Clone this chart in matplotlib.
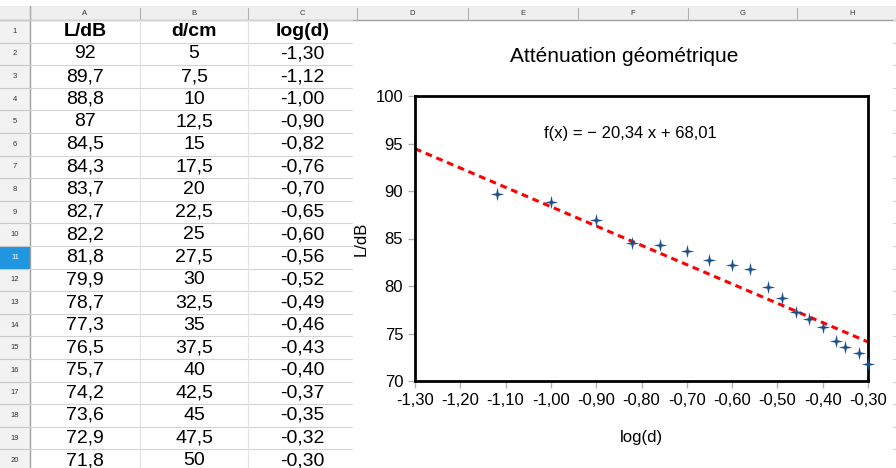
import numpy as np
import matplotlib.pyplot as plt
from matplotlib.path import Path
from matplotlib.patches import Rectangle

plt.rcParams['font.family'] = ['Liberation Sans', 'DejaVu Sans']

L_dB = [92, 89.7, 88.8, 87, 84.5, 84.3, 83.7, 82.7, 82.2, 81.8,
        79.9, 78.7, 77.3, 76.5, 75.7, 74.2, 73.6, 72.9, 71.8]
d_cm = [5, 7.5, 10, 12.5, 15, 17.5, 20, 22.5, 25, 27.5,
        30, 32.5, 35, 37.5, 40, 42.5, 45, 47.5, 50]
log_d = [-1.30, -1.12, -1.00, -0.90, -0.82, -0.76, -0.70, -0.65, -0.60, -0.56,
         -0.52, -0.49, -0.46, -0.43, -0.40, -0.37, -0.35, -0.32, -0.30]
headers = ['L/dB', 'd/cm', 'log(d)']
col_letters = ['A', 'B', 'C', 'D', 'E', 'F', 'G', 'H']
slope, intercept = -20.34, 68.01
fit_x = [-1.30, -0.30]

def fr(v, nd=None):
    s = f'{v:.{nd}f}' if nd is not None else f'{v:g}'
    return s.replace('.', ',')

W, H = 896, 468
fig = plt.figure(figsize=(W / 100, H / 100), dpi=100)

# spreadsheet background, pixel coordinates
bg = fig.add_axes([0, 0, 1, 1])
bg.set_xlim(0, W)
bg.set_ylim(H, 0)
bg.axis('off')

row_h = 22.6
top = 20
col_x = [30, 140, 248, 357, 468, 578, 688, 797, 907]

# header band and row-number column
bg.add_patch(Rectangle((0, 6), W, top - 6, fc='#efefef', ec='none'))
bg.add_patch(Rectangle((0, top), 30, H - top, fc='#f2f2f2', ec='none'))
bg.plot([0, W], [top, top], color='#a0a0a0', lw=1)
bg.plot([30, 30], [6, H], color='#a0a0a0', lw=1)
for i, x in enumerate(col_x[:-1]):
    bg.plot([x, x], [8, top], color='#b0b0b0', lw=0.8)
    bg.text((x + col_x[i + 1]) / 2, 13.5, col_letters[i], ha='center', va='center',
            fontsize=5.5, color='#333333')

nrows = len(L_dB) + 1
for r in range(nrows + 1):
    y = top + row_h * r
    bg.plot([0, 30], [y, y], color='#c8c8c8', lw=0.8)
    bg.plot([30, 352], [y, y], color='#d4d4d4', lw=0.8)
    bg.plot([893, W], [y, y], color='#d4d4d4', lw=0.8)
for x in col_x[1:3]:
    bg.plot([x, x], [top, H], color='#e2e2e2', lw=0.8)

for r in range(nrows):
    yc = top + row_h * (r + 0.5)
    if r + 1 == 11:
        bg.add_patch(Rectangle((0, top + row_h * r), 30, row_h, fc='#2196e0', ec='none'))
        bg.text(15, yc, str(r + 1), ha='center', va='center', fontsize=5.5, color='white')
    else:
        bg.text(15, yc, str(r + 1), ha='center', va='center', fontsize=5.5, color='#333333')

centers = [(col_x[i] + col_x[i + 1]) / 2 for i in range(3)]
for j, h in enumerate(headers):
    bg.text(centers[j], top + row_h * 0.5, h, ha='center', va='center',
            fontsize=14, fontweight='bold')
for i in range(len(L_dB)):
    yc = top + row_h * (i + 1.5)
    bg.text(centers[0], yc, fr(L_dB[i]), ha='center', va='center', fontsize=14)
    bg.text(centers[1], yc, fr(d_cm[i]), ha='center', va='center', fontsize=14)
    bg.text(centers[2], yc, fr(log_d[i], 2), ha='center', va='center', fontsize=14)

# chart object
bg.add_patch(Rectangle((352, top + 1), 541, H - top, fc='white', ec='none'))
fig.text(624 / W, 1 - 57 / H, 'Atténuation géométrique', ha='center', va='center', fontsize=15)

ax = fig.add_axes([415 / W, 1 - 381 / H, 453 / W, 285 / H])
star = Path([(0, 1), (0.18, 0.18), (1, 0), (0.18, -0.18), (0, -1), (-0.18, -0.18),
             (-1, 0), (-0.18, 0.18), (0, 1)], closed=True)
ax.scatter(log_d[1:], L_dB[1:], marker=star, s=95, color='#1a4f8a', zorder=3, lw=0,
           clip_on=False)
fx = np.array(fit_x)
ax.plot(fx, slope * fx + intercept, color='#ff0000', ls=(0, (2.2, 1.6)), lw=2.2, zorder=2)

ax.set_xlim(-1.30, -0.30)
ax.set_ylim(70, 100)
xt = np.round(np.arange(-1.30, -0.29, 0.10), 2)
ax.set_xticks(xt)
ax.set_xticklabels([fr(v, 2) for v in xt])
ax.set_yticks(range(70, 101, 5))
ax.tick_params(axis='both', labelsize=12, color='#b3b3b3', length=5, width=1, direction='out')
for s in ax.spines.values():
    s.set_linewidth(2)
    s.set_color('black')
ax.set_xlabel('log(d)', fontsize=12, labelpad=16)
ax.set_ylabel('L/dB', fontsize=12, labelpad=5)
ax.text(0.4746, 0.87, 'f(x) = − 20,34 x + 68,01', transform=ax.transAxes,
        ha='center', va='center', fontsize=12)

fig.savefig('out.png', dpi=100)
